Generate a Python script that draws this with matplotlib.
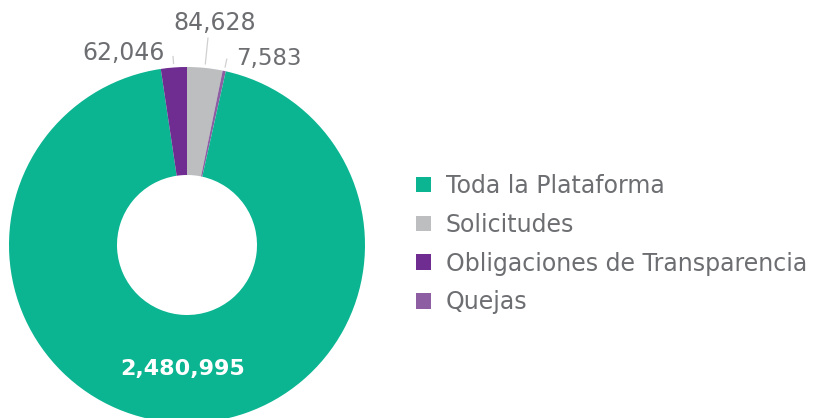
import matplotlib
matplotlib.use('Agg')
import matplotlib.pyplot as plt
import numpy as np

plt.rcParams['font.family'] = ['DejaVu Sans']

# orden de dibujo (horario desde arriba)
labels = ['Solicitudes', 'Quejas', 'Toda la Plataforma', 'Obligaciones de Transparencia']
values = [84628, 7583, 2480995, 62046]
colors = ['#bcbec0', '#8e5ea2', '#0bb592', '#6f2c91']
legend_order = ['Toda la Plataforma', 'Solicitudes', 'Obligaciones de Transparencia', 'Quejas']

gris = '#6d6e71'
cx, cy = 187, 173
R = 178
ancho = 108

fig = plt.figure(figsize=(8.13, 4.18), dpi=100)
ax = fig.add_axes([0, 0, 1, 1])

wedges, _ = ax.pie(values, colors=colors, startangle=90, counterclock=False,
                   center=(cx, cy), radius=R, wedgeprops=dict(width=ancho, linewidth=0),
                   frame=True)
ax.set_xlim(0, 813)
ax.set_ylim(0, 418)
ax.set_aspect('equal')
ax.axis('off')

# etiquetas de valores
for w, v, lab in zip(wedges, values, labels):
    ang = np.deg2rad((w.theta1 + w.theta2) / 2)
    c, s = np.cos(ang), np.sin(ang)
    txt = f'{v:,}'
    if lab == 'Toda la Plataforma':
        r = R - ancho / 2
        ax.text(cx + r * c, cy + r * s, txt, color='white', fontsize=16,
                fontweight='bold', ha='center', va='center')
        continue
    r1, r2 = R + 4, R + 30
    if lab == 'Quejas':
        r2 = R + 12
    elif lab == 'Obligaciones de Transparencia':
        r2 = R + 11
    ax.plot([cx + r1 * c, cx + r2 * c], [cy + r1 * s, cy + r2 * s],
            color='#d0d0d0', lw=0.9)
    if lab == 'Solicitudes':
        ax.text(cx + r2 * c + 7, cy + r2 * s + 3, txt, color=gris, fontsize=17,
                ha='center', va='bottom')
    elif lab == 'Quejas':
        ax.text(cx + r2 * c + 9, cy + r2 * s + 1, txt, color=gris, fontsize=16.5,
                ha='left', va='center')
    else:
        ax.text(cx + r2 * c - 8, cy + r2 * s + 4, txt, color=gris, fontsize=17,
                ha='right', va='center')

handles = [wedges[labels.index(l)] for l in legend_order]
leg = ax.legend(handles, legend_order, loc='center left', bbox_to_anchor=(0.4855, 0.416),
                frameon=False, fontsize=17, labelcolor=gris,
                handlelength=0.635, handleheight=0.635, handletextpad=0.63,
                labelspacing=0.63)

fig.savefig('out.png', dpi=100)
